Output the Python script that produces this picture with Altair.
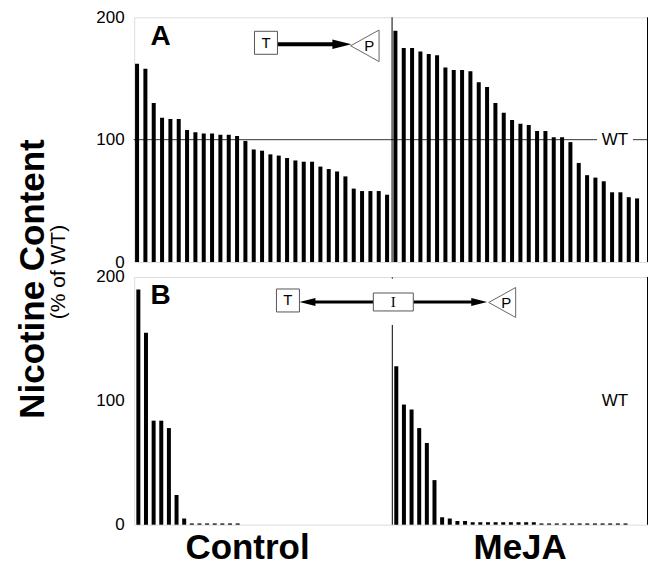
import altair as alt
import pandas as pd

# ---------------- data ----------------
ctrl_A = [162, 158, 130, 118, 117, 117, 108, 106, 105, 105, 104, 104, 103, 99, 92, 91,
          88, 87, 85, 83, 82, 82, 78, 76, 74, 70, 60, 58, 58, 58, 55]
meja_A = [189, 175, 175, 172, 170, 169, 159, 157, 157, 156, 147, 143, 130, 122, 116, 113,
          112, 107, 107, 102, 102, 98, 81, 71, 69, 66, 57, 57, 53, 52]
ctrl_B = [190, 155, 84, 84, 78, 24, 5, 1, 1, 1, 1, 1, 1, 1]
meja_B = [128, 97, 93, 78, 66, 36, 6, 5, 3, 3, 2, 2, 2, 2, 2, 2, 2, 2, 2,
          1, 1, 1, 1, 1, 1, 1, 1, 1, 1, 1, 1]
y_ticks = [0, 100, 200]
group_labels = ["Control", "MeJA"]
wt_label = "WT"
panel_labels = ["A", "B"]

FONT = "Liberation Sans"
W = 514
HA = 245
HB = 248


def bar_frame(ctrl, meja, meja_start):
    rows = [{"pos": i, "value": v, "group": group_labels[0]} for i, v in enumerate(ctrl)]
    rows += [{"pos": meja_start + i, "value": v, "group": group_labels[1]} for i, v in enumerate(meja)]
    return pd.DataFrame(rows)


yaxis = alt.Axis(values=y_ticks, title=None, domain=False, ticks=False, grid=False,
                 labelFontSize=17, labelPadding=10, labelFont=FONT, labelColor="black")


def one(**kw):
    return pd.DataFrame({k: [v] for k, v in kw.items()} or {"d": [0]})


def box(x0, x1, y0, y1):
    return alt.Chart(one(d=0)).mark_rect(fill="white", stroke="#555", strokeWidth=1).encode(
        x=alt.value(x0), x2=alt.value(x1), y=alt.value(y0), y2=alt.value(y1))


def label(txt, x, y, size, bold=False, font=FONT, angle=0):
    kw = dict(fontSize=size, font=font, color="black", align="center", baseline="middle")
    if bold:
        kw["fontWeight"] = "bold"
    if angle:
        kw["angle"] = angle
    return alt.Chart(one(t=txt)).mark_text(**kw).encode(
        x=alt.value(x), y=alt.value(y), text="t:N")


def hline(x0, x1, y, w):
    return alt.Chart(one(d=0)).mark_rule(color="black", strokeWidth=w).encode(
        x=alt.value(x0), x2=alt.value(x1), y=alt.value(y))


def head(x, y, path, size):
    return alt.Chart(one(d=0)).mark_point(shape=path, size=size, filled=True, color="black",
                                          opacity=1).encode(x=alt.value(x), y=alt.value(y))


def promoter(x, y, path, size):
    return alt.Chart(one(d=0)).mark_point(shape=path, size=size, fill="white", stroke="#666",
                                          strokeWidth=1, opacity=1, fillOpacity=1).encode(
        x=alt.value(x), y=alt.value(y))


RIGHT = "M -1 -0.5 L 1 0 L -1 0.5 Z"
LEFT = "M 1 -0.5 L -1 0 L 1 0.5 Z"
TRI = "M -0.9 0 L 0.9 -1 L 0.9 1 Z"

# ---------------- panel A ----------------
xA = alt.Scale(domain=[-0.35, 61.25], nice=False, zero=False, padding=0)
yA = alt.Scale(domain=[0, 200], nice=False)
dfA = bar_frame(ctrl_A, meja_A, len(ctrl_A))

barsA = alt.Chart(dfA).mark_bar(color="black", size=4, orient="vertical").encode(
    x=alt.X("pos:Q", scale=xA, axis=None),
    y=alt.Y("value:Q", scale=yA, axis=yaxis))
vlinesA = alt.Chart(pd.DataFrame({"pos": [30.6, 61.25]})).mark_rule(
    color="black", strokeWidth=1).encode(x=alt.X("pos:Q", scale=xA, axis=None))
wtA = alt.Chart(pd.DataFrame({"x0": [-0.41, 59.5], "x1": [55.2, 61.25], "yv": [100, 100]})).mark_rule(
    color="black", strokeWidth=0.8).encode(
    x=alt.X("x0:Q", scale=xA, axis=None), x2="x1:Q",
    y=alt.Y("yv:Q", scale=yA, axis=yaxis))
wtTextA = alt.Chart(pd.DataFrame({"x": [57.35], "y": [100], "t": [wt_label]})).mark_text(
    fontSize=17, font=FONT, color="black").encode(
    x=alt.X("x:Q", scale=xA, axis=None), y=alt.Y("y:Q", scale=yA, axis=yaxis), text="t:N")

panelA = alt.layer(
    barsA, vlinesA, wtA, wtTextA,
    label(panel_labels[0], 26.5, 20, 28, bold=True),
    hline(143.5, 201.5, 27, 4), head(208, 27, RIGHT, 361),
    box(120.5, 143.5, 14, 37), label("T", 132, 25.5, 15),
    promoter(231, 28.5, TRI, 1000), label("P", 235.5, 29, 15),
    label("Nicotine Content", -101, 262, 35, bold=True, angle=270),
    label("(% of WT)", -75, 255, 21, angle=270),
).properties(width=W, height=HA)

# ---------------- panel B ----------------
xB = alt.Scale(domain=[-0.55, 66.64], nice=False, zero=False, padding=0)
yB = alt.Scale(domain=[0, 200], nice=False)
dfB = bar_frame(ctrl_B, meja_B, 33.76)

barsB = alt.Chart(dfB).mark_bar(color="black", size=4, orient="vertical").encode(
    x=alt.X("pos:Q", scale=xB, axis=None),
    y=alt.Y("value:Q", scale=yB, axis=yaxis))
rightB = alt.Chart(pd.DataFrame({"pos": [66.64]})).mark_rule(
    color="black", strokeWidth=1).encode(x=alt.X("pos:Q", scale=xB, axis=None))
divB = alt.Chart(pd.DataFrame({"pos": [33.24]})).mark_rule(
    color="black", strokeWidth=1).encode(x=alt.X("pos:Q", scale=xB, axis=None),
                                         y=alt.value(48), y2=alt.value(HB))
dotB = alt.Chart(pd.DataFrame({"pos": [33.24]})).mark_rule(
    color="#444", strokeWidth=1).encode(x=alt.X("pos:Q", scale=xB, axis=None),
                                        y=alt.value(0), y2=alt.value(2))
wtTextB = alt.Chart(pd.DataFrame({"x": [62.39], "y": [100], "t": [wt_label]})).mark_text(
    fontSize=17, font=FONT, color="black").encode(
    x=alt.X("x:Q", scale=xB, axis=None), y=alt.Y("y:Q", scale=yB, axis=yaxis), text="t:N")

panelB = alt.layer(
    barsB, rightB, divB, dotB, wtTextB,
    label(panel_labels[1], 26.5, 19.5, 28, bold=True),
    hline(177.5, 239.5, 25, 3), head(173.5, 25, LEFT, 256),
    hline(279.5, 339.5, 25, 3), head(345.5, 25, RIGHT, 256),
    box(142.5, 165.5, 12, 35), label("T", 154, 23.5, 15),
    box(239.5, 279.5, 16, 34), label("I", 259.5, 25, 15, font="Liberation Serif"),
    promoter(368.5, 25.5, TRI, 900), label("P", 372.5, 26, 15),
    label(group_labels[0], 113.5, 271.5, 35, bold=True),
    label(group_labels[1], 386.5, 271.5, 35, bold=True),
).properties(width=W, height=HB)

chart = alt.vconcat(panelA, panelB, spacing=15, bounds="flush").properties(
    padding={"left": 7.3, "top": -1, "right": -0.5, "bottom": -5.85}
).configure_view(stroke=None).configure(background="white")

chart.save("out.html", embed_options={"renderer": "svg", "actions": False})
